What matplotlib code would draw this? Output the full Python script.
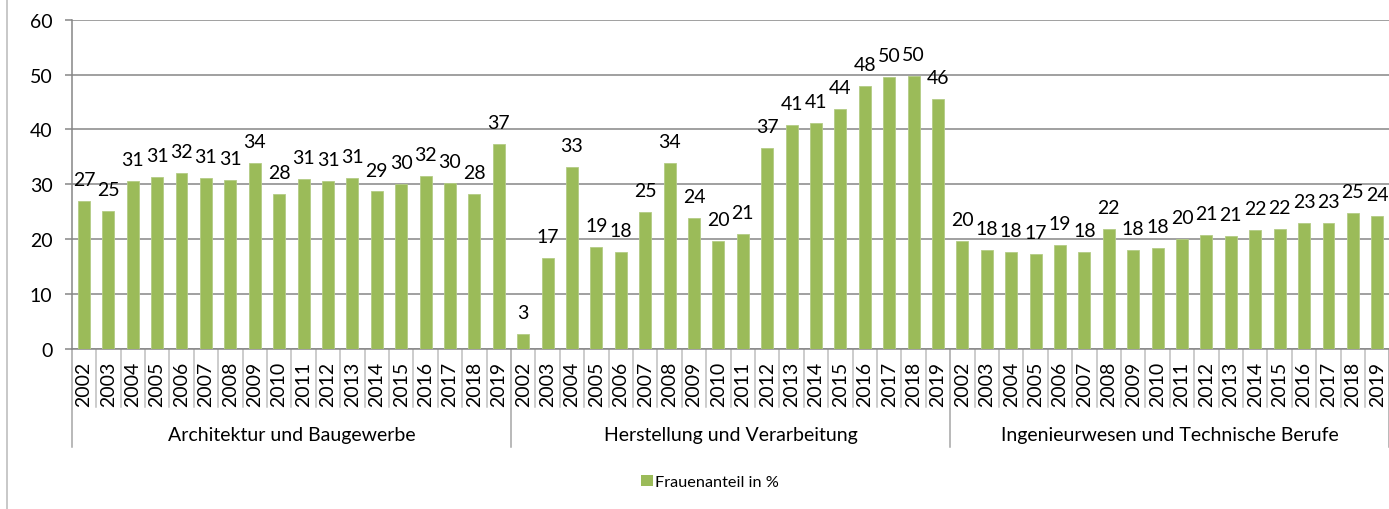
import matplotlib.pyplot as plt
from matplotlib.lines import Line2D
from matplotlib.patches import Patch
import matplotlib.transforms as mtransforms

plt.rcParams['font.family'] = ['Lato', 'DejaVu Sans']

years = [str(y) for y in range(2002, 2020)]
groups = ["Architektur und Baugewerbe", "Herstellung und Verarbeitung",
          "Ingenieurwesen und Technische Berufe"]

arch = [26.9, 25.1, 30.6, 31.3, 32.0, 31.1, 30.8, 33.9, 28.2, 31.0,
        30.6, 31.2, 28.7, 30.1, 31.6, 30.2, 28.3, 37.3]
herst = [2.7, 16.6, 33.2, 18.6, 17.6, 24.9, 33.9, 23.8, 19.6, 21.0,
         36.7, 40.8, 41.1, 43.7, 48.0, 49.6, 49.7, 45.6]
ing = [19.6, 18.0, 17.6, 17.3, 19.0, 17.6, 21.8, 18.0, 18.4, 20.0,
       20.8, 20.6, 21.6, 21.8, 23.0, 22.9, 24.7, 24.3]

values = arch + herst + ing
n = len(values)
x = list(range(n))

W, H = 1389, 510
fig = plt.figure(figsize=(W / 100, H / 100), dpi=100)
ax_left, ax_right, ax_top, ax_bot = 71.7, 1389.5, 20.7, 350
ax = fig.add_axes([ax_left / W, 1 - ax_bot / H, (ax_right - ax_left) / W, (ax_bot - ax_top) / H])
ax_h = ax_bot - ax_top

green = '#9BBB59'
grid = '#868686'
fs = 14

ax.bar(x, values, width=0.49, color=green, edgecolor='#B4CC85', linewidth=0.6, zorder=3)
for xi, v in zip(x, values):
    ax.annotate(f"{v:.0f}", (xi, v), xytext=(0, 11.5), textcoords='offset points',
                ha='center', va='baseline', fontsize=fs, color='#000000', zorder=4)

ax.set_xlim(-0.5, n - 0.5)
ax.set_ylim(0, 60)
ax.set_yticks(range(0, 61, 10))
ax.yaxis.grid(True, color=grid, linewidth=1.1, zorder=0)
ax.tick_params(axis='y', length=4.8, width=1.1, color=grid, pad=9, labelsize=fs)
ax.set_xticks([])
for s in ['top', 'right']:
    ax.spines[s].set_visible(False)
for s in ['left', 'bottom']:
    ax.spines[s].set_color(grid)
    ax.spines[s].set_linewidth(1.1)

trans = mtransforms.blended_transform_factory(ax.transData, ax.transAxes)
# separators below the axis
for i in range(n + 1):
    b = i - 0.5
    if i % 18 == 0:
        y_end = -(448 - ax_bot) / ax_h
        col = '#A6A6A6'
    else:
        y_end = -(408 - ax_bot) / ax_h
        col = '#BFBFBF'
    ax.plot([b, b], [0, y_end], transform=trans, color=col, linewidth=1.1, clip_on=False)

# year labels
for i in range(n):
    ax.text(i, -(362 - ax_bot) / ax_h, years[i % 18], transform=trans, rotation=90,
            ha='center', va='top', fontsize=fs)

# group labels
for g, name in enumerate(groups):
    ax.text(g * 18 + 8.5, -(436 - ax_bot) / ax_h, name, transform=trans,
            ha='center', va='center', fontsize=fs)

# legend
handle = Patch(facecolor=green, edgecolor='none', label='Frauenanteil in %')
fig.legend(handles=[handle], loc='center', bbox_to_anchor=(710 / W, 1 - 483 / H),
           frameon=False, fontsize=11.7, handlelength=0.7, handleheight=0.7,
           handletextpad=0.15)

# chart border line on the left
fig.add_artist(Line2D([7 / W, 7 / W], [0, 1], color='#BFBFBF', linewidth=1.2))

fig.savefig('out.png', dpi=100)
